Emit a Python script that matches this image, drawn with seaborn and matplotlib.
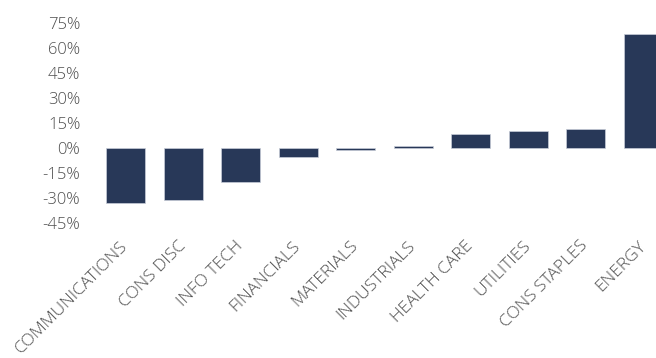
import matplotlib
matplotlib.use("Agg")
import matplotlib.pyplot as plt
import seaborn as sns
import pandas as pd

sectors = ["COMMUNICATIONS", "CONS DISC", "INFO TECH", "FINANCIALS", "MATERIALS",
           "INDUSTRIALS", "HEALTH CARE", "UTILITIES", "CONS STAPLES", "ENERGY"]
returns = [-33.2, -31.3, -20.6, -5.8, -1.2, 1.2, 8.0, 10.2, 11.4, 68.1]
y_ticks = [-45, -30, -15, 0, 15, 30, 45, 60, 75]

df = pd.DataFrame({"sector": sectors, "ret": returns})

sns.set_theme(style="white")
plt.rcParams["font.family"] = ["Open Sans", "DejaVu Sans"]

fig = plt.figure(figsize=(6.56, 3.58), dpi=100)
ax = fig.add_axes([0.1478, 0.3780, 0.8765, 0.5578])

sns.barplot(data=df, x="sector", y="ret", color="#283858", saturation=1,
            width=0.673, edgecolor="#c8cdd8", linewidth=0.5, ax=ax)

ax.set_xlim(-0.5, len(sectors) - 0.5)
ax.set_ylim(-45, 75)
ax.set_yticks(y_ticks)
ax.set_yticklabels([f"{t}%" for t in y_ticks])
ax.set_xlabel("")
ax.set_ylabel("")
sns.despine(ax=ax, left=True, bottom=True)
ax.tick_params(axis="both", length=0, colors="#4f4f4f")
ax.tick_params(axis="y", pad=12, labelsize=12)
ax.tick_params(axis="x", pad=15, labelsize=12.5)
for lbl in ax.get_xticklabels():
    lbl.set_rotation(45)
    lbl.set_ha("right")
    lbl.set_rotation_mode("anchor")
    lbl.set_va("center")
    lbl.set_fontweight("light")
for lbl in ax.get_yticklabels():
    lbl.set_fontweight("light")

fig.savefig("out.png", dpi=100)
